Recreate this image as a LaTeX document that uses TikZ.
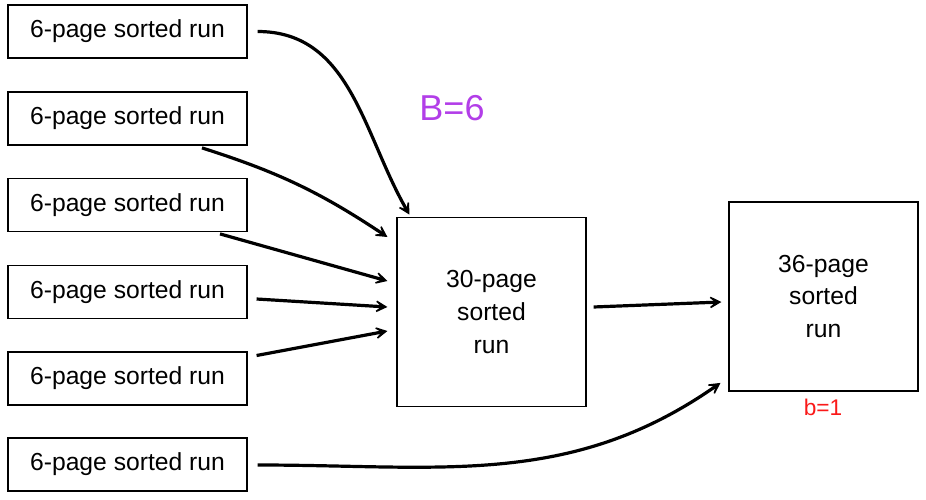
\documentclass[tikz,border=0pt]{standalone}
\usepackage{fontspec}
\setmainfont{Liberation Sans}
\usetikzlibrary{arrows.meta, positioning}

\definecolor{bpurple}{RGB}{178,62,232}
\definecolor{bred}{RGB}{250,25,25}

\begin{document}
\begin{tikzpicture}[x=0.75pt, y=-0.75pt]

  % Define styles
  \tikzstyle{run} = [rectangle, draw, line width=1.1pt, minimum width=179pt, minimum height=40pt, inner sep=0pt, font=\fontsize{18.5}{24.5}\selectfont]
  \tikzstyle{bigrun} = [rectangle, draw, line width=1.1pt, minimum width=141.5pt, minimum height=142pt, inner sep=0pt, align=center, font=\fontsize{18.5}{24.5}\selectfont]
  \tikzstyle{merge_arrow} = [draw, line width=2.4pt, -{Stealth[length=13pt, width=14pt, inset=8.5pt]}]

  \useasboundingbox (0,0) rectangle (926,500);

  % Input runs
  \node[run] (run1) at (127.5, 31.5) {6-page sorted run};
  \node[run] (run2) at (127.5, 118.5) {6-page sorted run};
  \node[run] (run3) at (127.5, 205) {6-page sorted run};
  \node[run] (run4) at (127.5, 292) {6-page sorted run};
  \node[run] (run5) at (127.5, 378.5) {6-page sorted run};
  \node[run] (run6) at (127.5, 464.5) {6-page sorted run};

  % Merged runs
  \node[bigrun] (merged) at (491.5, 312) {30-page\\sorted\\run};
  \node[bigrun] (final) at (823.5, 296.5) {36-page\\sorted\\run};

  % Labels
  \node[text=bpurple, font=\fontsize{27}{30}\selectfont] (buffers) at (452, 108) {B=6};
  \node[text=bred, font=\fontsize{17}{19}\selectfont] (outbuf) at (823, 407) {b=1};

  % First pass connections
  \draw[merge_arrow] ([shift={(10,0)}]run1.east) to[out=0, in=120] ([shift={(13,-2)}]merged.north west);
  \draw[merge_arrow] ([shift={(74.5,2)}]run2.south) to[bend left=8] ([shift={(-9,-75)}]merged.west);
  \draw[merge_arrow] ([shift={(92.5,1.5)}]run3.south) -- ([shift={(-9,-31)}]merged.west);
  \draw[merge_arrow] ([shift={(9,7)}]run4.east) -- ([shift={(-9,-5)}]merged.west);
  \draw[merge_arrow] ([shift={(9,-23)}]run5.east) -- ([shift={(-9,19)}]merged.west);

  % Second pass connections
  \draw[merge_arrow] ([shift={(7,-5)}]merged.east) -- ([shift={(-7,5.5)}]final.west);
  \draw[merge_arrow] ([shift={(10,0.5)}]run6.east) to[out=0, in=215] ([shift={(-8,-9)}]final.south west);

\end{tikzpicture}
\end{document}
